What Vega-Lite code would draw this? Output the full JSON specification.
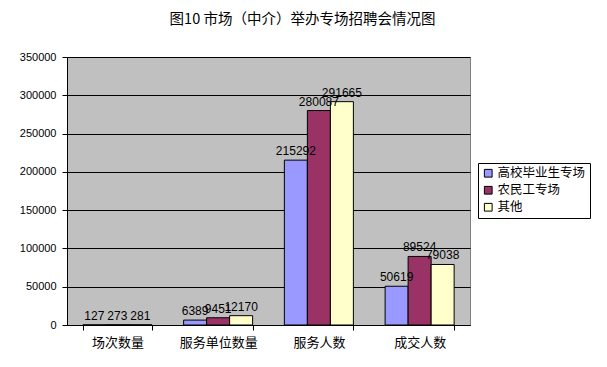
{
  "$schema": "https://vega.github.io/schema/vega-lite/v6.json",
  "width": 403,
  "height": 268,
  "autosize": "none",
  "padding": {"left": 67, "top": 57, "right": 137, "bottom": 42},
  "background": "white",
  "title": {
    "text": "图10 市场（中介）举办专场招聘会情况图",
    "font": "Noto Sans CJK SC",
    "fontSize": 14.5,
    "fontWeight": "normal",
    "color": "black",
    "anchor": "middle",
    "frame": "group",
    "dx": 34,
    "offset": 24
  },
  "data": {
    "values": [
      {"cat": "场次数量", "series": "高校毕业生专场", "value": 127},
      {"cat": "场次数量", "series": "农民工专场", "value": 273},
      {"cat": "场次数量", "series": "其他", "value": 281},
      {"cat": "服务单位数量", "series": "高校毕业生专场", "value": 6389},
      {"cat": "服务单位数量", "series": "农民工专场", "value": 9451},
      {"cat": "服务单位数量", "series": "其他", "value": 12170},
      {"cat": "服务人数", "series": "高校毕业生专场", "value": 215292},
      {"cat": "服务人数", "series": "农民工专场", "value": 280087},
      {"cat": "服务人数", "series": "其他", "value": 291665},
      {"cat": "成交人数", "series": "高校毕业生专场", "value": 50619},
      {"cat": "成交人数", "series": "农民工专场", "value": 89524},
      {"cat": "成交人数", "series": "其他", "value": 79038}
    ]
  },
  "encoding": {
    "x": {
      "field": "cat",
      "type": "nominal",
      "sort": ["场次数量", "服务单位数量", "服务人数", "成交人数"],
      "scale": {"paddingInner": 0.315, "paddingOuter": 0.1575},
      "axis": {
        "title": null,
        "labelAngle": 0,
        "labelFont": "Noto Sans CJK SC",
        "labelFontSize": 13,
        "labelColor": "black",
        "labelPadding": 6,
        "domainColor": "black",
        "tickColor": "black",
        "tickBand": "extent",
        "tickSize": 5
      }
    },
    "xOffset": {
      "field": "series",
      "type": "nominal",
      "sort": ["高校毕业生专场", "农民工专场", "其他"],
      "scale": {"paddingInner": 0, "paddingOuter": 0}
    },
    "y": {
      "field": "value",
      "type": "quantitative",
      "scale": {"domain": [0, 350000], "nice": false},
      "axis": {
        "title": null,
        "values": [0, 50000, 100000, 150000, 200000, 250000, 300000, 350000],
        "format": "d",
        "labelFont": "Liberation Sans",
        "labelFontSize": 11,
        "labelColor": "black",
        "labelPadding": 6,
        "domainColor": "black",
        "tickColor": "black",
        "tickSize": 5,
        "grid": true,
        "gridColor": "black",
        "gridOpacity": 1
      }
    }
  },
  "layer": [
    {
      "mark": {"type": "bar", "stroke": "black", "strokeWidth": 1},
      "encoding": {
        "color": {
          "field": "series",
          "type": "nominal",
          "sort": ["高校毕业生专场", "农民工专场", "其他"],
          "scale": {
            "domain": ["高校毕业生专场", "农民工专场", "其他"],
            "range": ["#9999FF", "#993366", "#FFFFCC"]
          },
          "legend": {
            "title": null,
            "orient": "none",
            "legendX": 411,
            "legendY": 106,
            "symbolType": "square",
            "symbolSize": 60,
            "symbolStrokeColor": "black",
            "symbolStrokeWidth": 1,
            "symbolOpacity": 1,
            "labelFont": "Noto Sans CJK SC",
            "labelFontSize": 12.5,
            "labelColor": "black",
            "labelOffset": 3,
            "rowPadding": 4,
            "strokeColor": "black",
            "padding": 4,
            "fillColor": "white"
          }
        }
      }
    },
    {
      "mark": {
        "type": "text",
        "baseline": "bottom",
        "dy": -2,
        "font": "Liberation Sans",
        "fontSize": 12,
        "color": "black"
      },
      "encoding": {
        "text": {"field": "value", "type": "quantitative", "format": "d"}
      }
    }
  ],
  "config": {
    "view": {"fill": "#C0C0C0", "stroke": "#808080"}
  }
}
